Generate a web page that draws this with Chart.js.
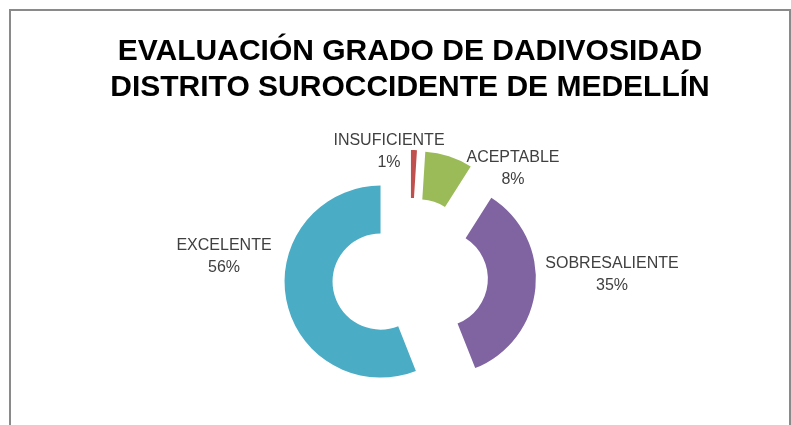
<!DOCTYPE html>
<html lang="es">
  <head>
    <meta charset="utf-8">
    <script src="https://cdn.jsdelivr.net/npm/chart.js"></script>
    <title>Evaluación grado de dadivosidad</title>
    <style>
      html, body { margin: 0; padding: 0; background: #fff; }
      #frame {
        position: absolute; left: 9px; top: 9px; width: 778px; height: 440px;
        border-left: 2px solid #8a8a8a; border-top: 2px solid #8a8a8a; border-right: 2px solid #8a8a8a;
      }
      #chart { position: absolute; left: 0; top: 0; width: 791px; height: 425px; }
    </style>
  </head>
  <body>
    <div id="frame"></div>
    <div id="chart"><canvas id="c" width="791" height="425"></canvas></div>
  <script>
    // data
    const categories = ['INSUFICIENTE', 'ACEPTABLE', 'SOBRESALIENTE', 'EXCELENTE'];
    const values = [1, 8, 35, 56];
    const sliceColors = ['#C0504D', '#9BBB59', '#8064A2', '#4BACC6'];
    const titleLines = ['EVALUACIÓN GRADO DE DADIVOSIDAD', 'DISTRITO SUROCCIDENTE DE MEDELLÍN'];

    const explodeBy = 30; // every slice pulled out from the centre
    // where each label sits, relative to the doughnut centre (line 1 middle)
    const labelSpots = [[-21, -135], [103, -118], [202, -12], [-186, -30]];

    const explode = {
      id: 'explode',
      afterDatasetUpdate(chart, args) {
        args.meta.data.forEach(arc => {
          const mid = (arc.startAngle + arc.endAngle) / 2;
          arc.x += Math.cos(mid) * explodeBy;
          arc.y += Math.sin(mid) * explodeBy;
        });
      }
    };

    const sliceLabels = {
      id: 'sliceLabels',
      afterDraw(chart) {
        const ctx = chart.ctx;
        const area = chart.chartArea;
        const cx = (area.left + area.right) / 2;
        const cy = (area.top + area.bottom) / 2;
        const total = values.reduce((a, b) => a + b, 0);
        ctx.save();
        ctx.font = '16px "Liberation Sans", Arial, sans-serif';
        ctx.fillStyle = '#404040';
        ctx.textAlign = 'center';
        ctx.textBaseline = 'middle';
        categories.forEach((name, i) => {
          const x = cx + labelSpots[i][0];
          const y = cy + labelSpots[i][1];
          ctx.fillText(name, x, y);
          ctx.fillText(Math.round(values[i] / total * 100) + '%', x, y + 22);
        });
        ctx.restore();
      }
    };

    const canvas = document.getElementById('c');
    new Chart(canvas, {
      type: 'doughnut',
      data: {
        labels: categories,
        datasets: [{
          data: values,
          backgroundColor: sliceColors,
          borderWidth: 0
        }]
      },
      options: {
        responsive: false,
        animation: false,
        events: [],
        cutout: '50%',
        layout: { padding: { left: 29, right: 0, top: 0, bottom: 53 } },
        plugins: {
          legend: { display: false },
          tooltip: { enabled: false },
          title: {
            display: true,
            text: titleLines,
            color: '#000',
            font: { family: '"Liberation Sans", Arial, sans-serif', size: 30, weight: 'bold', lineHeight: 36 / 30 },
            padding: { top: 34, bottom: 74 }
          }
        }
      },
      plugins: [explode, sliceLabels]
    });
  </script>
  </body>
</html>
